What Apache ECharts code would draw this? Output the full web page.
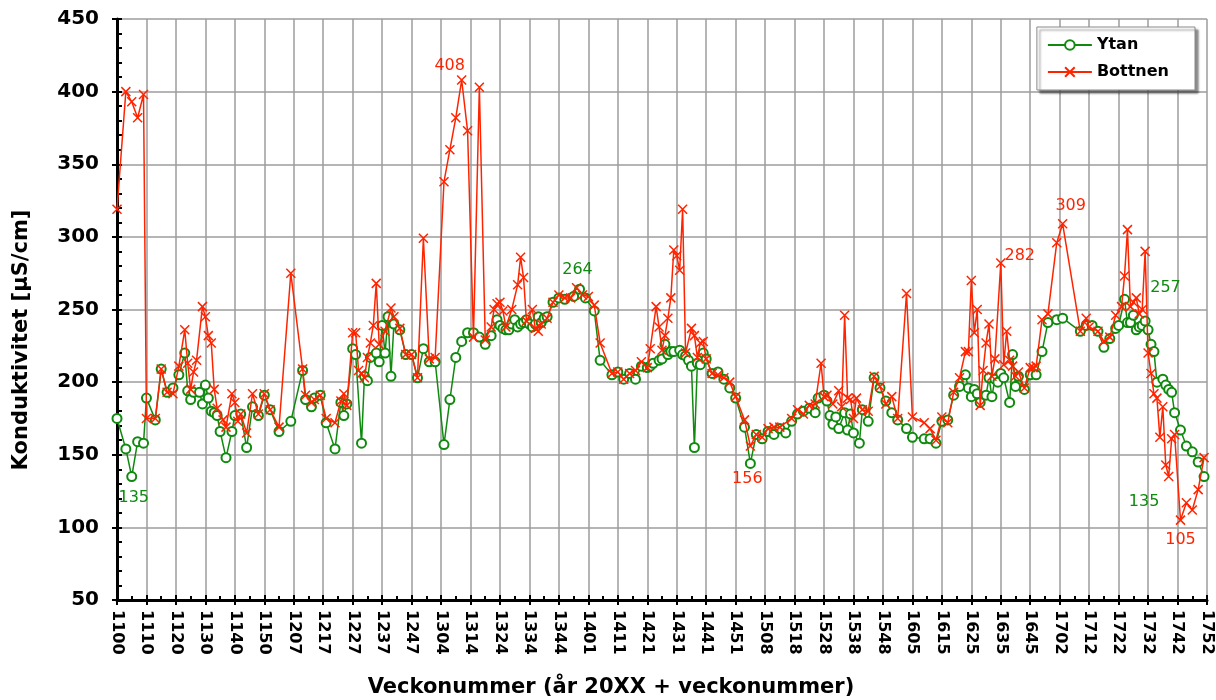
<!DOCTYPE html>
<html>
<head>
<meta charset="utf-8">
<script src="https://cdn.jsdelivr.net/npm/echarts@6/dist/echarts.min.js"></script>
<style>
  html, body { margin: 0; padding: 0; background: #fff; }
  #chart { width: 1216px; height: 700px; }
</style>
</head>
<body>
<div id="chart"></div>
<script>
// Category labels: every week 00..52 for 2011..2017 (yy + ww)
const weeks = [];
for (let y = 11; y <= 17; y++) {
  for (let w = 0; w <= 52; w++) weeks.push(String(y) + String(w).padStart(2, "0"));
}

// Sampled weeks and conductivity readings (µS/cm); null = no reading
const sampleWeeks = [
  "1100","1103","1105","1107","1109","1110","1113","1115","1117","1119",
  "1121","1123","1124","1125","1126","1127","1128","1129","1130","1131",
  "1132","1133","1134","1135","1136","1137","1139","1140","1141","1142",
  "1144","1146","1148","1150","1152","1202","1206","1210","1211","1213",
  "1214","1216","1218","1221","1223","1224","1225","1227","1228","1229",
  "1230","1231","1232","1233","1234","1235","1236","1237","1238","1239",
  "1240","1241","1243","1245","1247","1249","1251","1300","1302","1305",
  "1307","1309","1311","1313","1315","1317","1319","1321","1322","1323",
  "1324","1325","1326","1327","1328","1329","1330","1331","1332","1333",
  "1334","1335","1336","1337","1338","1339","1340","1342","1344","1346",
  "1348","1349","1350","1351","1352","1400","1401","1403","1405","1409",
  "1411","1413","1415","1417","1419","1421","1422","1423","1424","1425",
  "1426","1427","1428","1429","1430","1431","1432","1433","1434","1435",
  "1436","1437","1438","1439","1440","1441","1443","1445","1447","1449",
  "1451","1501","1503","1505","1507","1509","1511","1513","1515","1517",
  "1519","1521","1523","1525","1526","1527","1528","1529","1530","1531",
  "1532","1533","1534","1535","1536","1537","1538","1539","1540","1541",
  "1543","1545","1547","1549","1551","1600","1603","1605","1609","1611",
  "1613","1615","1617","1619","1621","1623","1624","1625","1626","1627",
  "1628","1629","1630","1631","1632","1633","1634","1635","1636","1637",
  "1638","1639","1640","1641","1643","1645","1646","1647","1649","1651",
  "1701","1703","1709","1711","1712","1713","1715","1717","1719","1721",
  "1722","1723","1724","1725","1726","1727","1728","1729","1730","1731",
  "1732","1733","1734","1735","1736","1737","1738","1739","1740","1741",
  "1743","1745","1747","1749","1751"
];

const ytan = [
  175,154,135,159,158,189,174,209,193,196,
  205,220,194,188,193,null,193,185,198,189,
  180,179,177,166,null,148,166,177,null,178,
  155,183,177,191,181,166,173,208,188,183,
  189,191,172,154,186,177,185,223,219,null,
  158,204,201,217,null,220,214,239,220,245,
  204,240,236,219,219,203,223,214,214,157,
  188,217,228,234,234,231,226,232,null,243,
  239,237,236,236,240,243,238,240,241,243,
  240,238,240,245,241,244,245,255,258,257,
  null,259,null,264,null,258,null,249,215,205,
  207,202,206,202,211,210,211,213,null,215,
  216,226,219,221,221,null,222,219,218,215,
  211,155,213,212,220,216,206,207,202,196,
  189,169,144,164,161,166,164,168,165,173,
  178,180,182,179,189,null,191,187,177,171,
  176,168,null,179,167,178,165,null,158,181,
  173,203,196,187,179,174,168,162,161,161,
  158,173,174,191,197,205,196,190,195,192,
  186,null,191,203,190,202,200,206,203,null,
  186,219,197,204,195,205,null,205,221,241,
  243,244,235,239,null,239,235,224,230,237,
  239,null,257,241,241,246,236,238,239,242,
  236,226,221,200,null,202,198,195,193,179,
  167,156,152,145,135
];

const bottnen = [
  319,400,393,382,398,175,175,209,193,192,
  211,236,213,195,207,215,null,252,245,232,
  227,195,182,null,174,169,192,186,173,178,
  165,192,178,192,181,169,275,209,191,186,
  188,191,175,172,187,192,184,234,234,208,
  206,203,217,227,239,268,226,null,235,null,
  251,245,237,219,219,203,299,216,217,338,
  360,382,408,373,231,403,229,238,250,254,
  255,249,238,null,250,null,267,286,272,242,
  null,250,237,235,240,null,244,255,260,258,
  258,null,265,null,260,null,259,253,227,206,
  207,202,206,208,214,210,223,null,252,238,
  222,232,244,258,291,287,277,319,220,null,
  237,232,217,227,228,216,206,205,203,200,
  190,174,156,164,162,168,169,169,null,175,
  181,178,184,185,null,213,190,191,null,185,
  null,194,183,246,189,188,175,189,null,181,
  180,204,197,185,190,175,261,176,172,168,
  160,176,172,193,203,221,221,270,234,250,
  184,208,227,240,204,216,null,282,212,235,
  215,211,204,207,196,210,210,211,243,247,
  296,309,235,244,238,null,235,228,231,246,
  null,252,273,305,252,255,258,247,250,290,
  220,206,192,189,162,183,143,135,161,164,
  105,117,112,126,148
];

// Weeks whose value is written next to the marker
const ytanLabelWeeks = ["1105", "1351", "1724", "1751"];
const bottnenLabelWeeks = ["1311", "1503", "1635", "1703", "1743"];

const GREEN = "#0f8a0f";
const RED = "#ff2400";
const FONT = "DejaVu Sans";

// label offsets from the marker centre (px)
const labelOffset = {
  "1105": [2, 21], "1351": [-2, -19], "1724": [41, -11], "1751": [-60, 25],
  "1311": [-12, -14], "1503": [-3, 33], "1635": [19, -7], "1703": [8, -18], "1743": [0, 20],
};

function buildData(values, labelWeeks, color) {
  const out = [];
  sampleWeeks.forEach((w, k) => {
    const v = values[k];
    if (v == null) return;
    const item = { value: [weeks.indexOf(w), v] };
    if (labelWeeks.includes(w)) {
      item.label = {
        show: true,
        position: "inside",
        offset: labelOffset[w],
        formatter: (p) => p.value[1],
        color,
        fontSize: 16,
        fontFamily: FONT,
      };
    }
    out.push(item);
  });
  return out;
}

const chart = echarts.init(document.getElementById("chart"), null, { renderer: "canvas" });

const gridLine = { lineStyle: { color: "#9c9c9c", width: 1.5 } };

const option = {
  animation: false,
  backgroundColor: "#fff",
  textStyle: { fontFamily: FONT },
  grid: { left: 117, right: 9, top: 19, bottom: 100 },
  legend: {
    orient: "vertical",
    right: 21,
    top: 27,
    padding: [10, 26, 10, 10],
    itemGap: 11,
    itemWidth: 44,
    itemHeight: 12,
    backgroundColor: "#fff",
    borderColor: "#888",
    borderWidth: 1,
    shadowColor: "rgba(0,0,0,0.45)",
    shadowBlur: 2,
    shadowOffsetX: 3,
    shadowOffsetY: 3,
    textStyle: { fontFamily: FONT, fontWeight: "bold", fontSize: 16, color: "#000" },
    data: ["Ytan", "Bottnen"],
  },
  xAxis: [
    {
      type: "value",
      min: 0,
      max: weeks.length - 1,
      interval: 10,
      axisLine: { show: true, onZero: false, lineStyle: { color: "#000", width: 3 } },
      axisTick: { show: true, inside: true, length: 5, lineStyle: { color: "#000", width: 2 } },
      minorTick: { show: true, splitNumber: 2, length: 4, lineStyle: { color: "#000", width: 2 } },
      axisLabel: {
        rotate: -90,
        margin: 10,
        color: "#000",
        fontWeight: "bold",
        fontSize: 16,
        fontFamily: FONT,
        formatter: (v) => weeks[v],
      },
      splitLine: { show: true, ...gridLine },
    },
    {
      type: "value",
      min: 0,
      max: weeks.length - 1,
      interval: 10,
      position: "bottom",
      axisLine: { show: false },
      axisTick: { show: true, inside: false, length: 5, lineStyle: { color: "#000", width: 2 } },
      axisLabel: { show: false },
      splitLine: { show: false },
    },
  ],
  yAxis: [
    {
      type: "value",
      min: 50,
      max: 450,
      interval: 50,
      axisLine: { show: true, onZero: false, lineStyle: { color: "#000", width: 3 } },
      axisTick: { show: true, inside: true, length: 5, lineStyle: { color: "#000", width: 2 } },
      minorTick: { show: true, splitNumber: 5, length: 5, lineStyle: { color: "#000", width: 2 } },
      axisLabel: { margin: 18, color: "#000", fontWeight: "bold", fontSize: 20, fontFamily: FONT },
      splitLine: { show: true, ...gridLine },
    },
    {
      type: "value",
      min: 50,
      max: 450,
      interval: 50,
      position: "left",
      axisLine: { show: false },
      axisTick: { show: true, inside: false, length: 5, lineStyle: { color: "#000", width: 2 } },
      axisLabel: { show: false },
      splitLine: { show: false },
    },
  ],
  graphic: [
    {
      type: "text",
      x: 22,
      y: 340,
      rotation: Math.PI / 2,
      style: {
        text: "Konduktivitet [µS/cm]",
        fill: "#000",
        font: "bold 21px 'DejaVu Sans'",
        textAlign: "center",
        textVerticalAlign: "middle",
      },
    },
    {
      type: "text",
      x: 611,
      y: 688,
      style: {
        text: "Veckonummer (år 20XX + veckonummer)",
        fill: "#000",
        font: "bold 21px 'DejaVu Sans'",
        textAlign: "center",
        textVerticalAlign: "middle",
      },
    },
  ],
  series: [
    {
      name: "Ytan",
      type: "line",
      data: buildData(ytan, ytanLabelWeeks, GREEN),
      symbol: "emptyCircle",
      symbolSize: 9,
      lineStyle: { color: GREEN, width: 1.5 },
      itemStyle: { color: GREEN, borderColor: GREEN, borderWidth: 1.5 },
      z: 2,
    },
    {
      name: "Bottnen",
      type: "line",
      data: buildData(bottnen, bottnenLabelWeeks, RED),
      symbol: "path://M0,0L10,10M0,10L10,0",
      symbolSize: 9,
      lineStyle: { color: RED, width: 1.5 },
      itemStyle: { color: RED, borderColor: RED, borderWidth: 1.5 },
      z: 3,
    },
  ],
};

chart.setOption(option);
</script>
</body>
</html>
